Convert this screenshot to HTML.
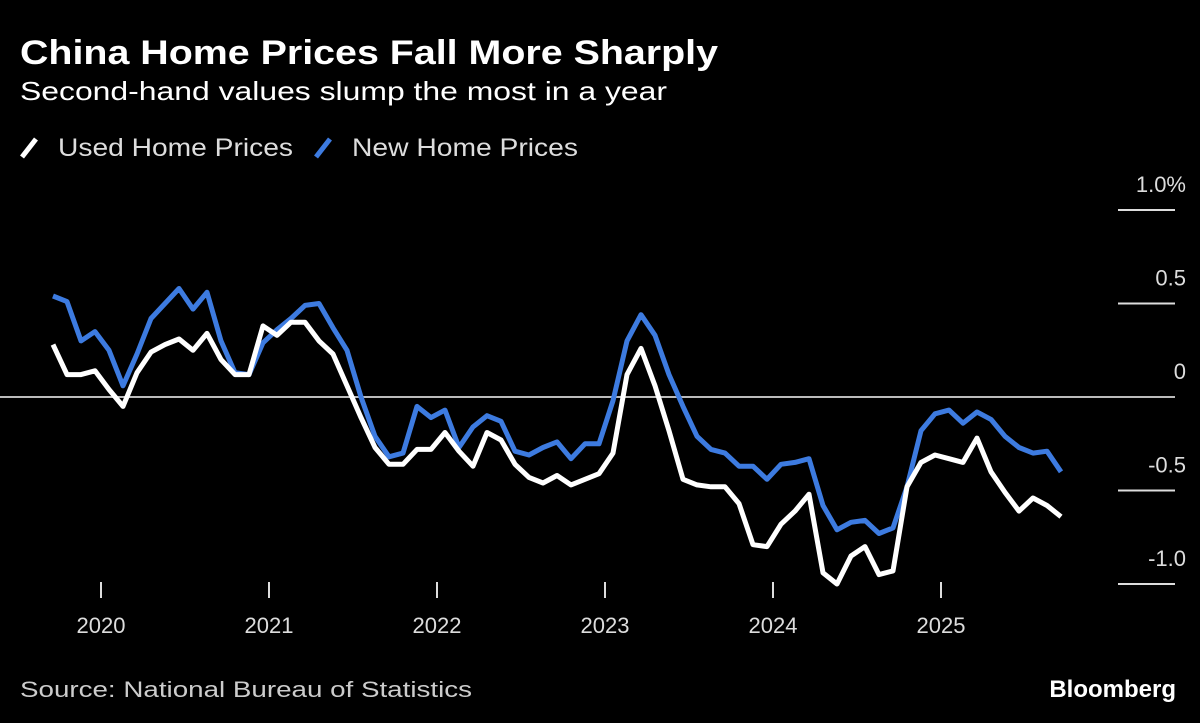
<!DOCTYPE html>
<html><head><meta charset="utf-8"><style>
html,body{margin:0;padding:0;background:#000;}
svg{display:block;font-family:"Liberation Sans","DejaVu Sans",sans-serif;}
</style></head><body>
<svg id="chart" width="1200" height="723" viewBox="0 0 1200 723">
<rect width="1200" height="723" fill="#000"/>
<text x="20" y="64" fill="#fff" font-size="34" font-weight="bold" textLength="698" lengthAdjust="spacingAndGlyphs">China Home Prices Fall More Sharply</text>
<text x="20" y="100" fill="#fff" font-size="26" textLength="647" lengthAdjust="spacingAndGlyphs">Second-hand values slump the most in a year</text>
<g>
<g>
<line x1="22" y1="157" x2="36" y2="139" stroke="#fff" stroke-width="5"/>
<text x="58" y="156" fill="#ddd" font-size="25" textLength="235" lengthAdjust="spacingAndGlyphs">Used Home Prices</text>
</g>
<g>
<line x1="316" y1="157" x2="330" y2="139" stroke="#3d7be0" stroke-width="5"/>
<text x="352" y="156" fill="#ddd" font-size="25" textLength="226" lengthAdjust="spacingAndGlyphs">New Home Prices</text>
</g>
</g>
<g id="axes"></g>
<g id="series"></g>
<text x="20" y="697" fill="#ccc" font-size="22" textLength="452" lengthAdjust="spacingAndGlyphs">Source: National Bureau of Statistics</text>
<text x="1176" y="697" fill="#fff" font-size="24" font-weight="bold" text-anchor="end">Bloomberg</text>
</svg>
<script>
const yTicks = [1.0, 0.5, 0, -0.5, -1.0];
const yTickLabels = ["1.0%", "0.5", "0", "-0.5", "-1.0"];
const xTickYears = [2020, 2021, 2022, 2023, 2024, 2025];
const startYear = 2019, startMonth = 9; // Oct 2019 (0-based month)
const usedPrices = [0.28,0.12,0.12,0.14,0.04,-0.05,0.13,0.24,0.28,0.31,0.25,0.34,0.20,0.12,0.12,0.38,0.33,0.40,0.40,0.30,0.23,0.06,-0.11,-0.27,-0.36,-0.36,-0.28,-0.28,-0.19,-0.29,-0.37,-0.19,-0.23,-0.36,-0.43,-0.46,-0.42,-0.47,-0.44,-0.41,-0.30,0.12,0.26,0.06,-0.18,-0.44,-0.47,-0.48,-0.48,-0.57,-0.79,-0.80,-0.68,-0.61,-0.52,-0.94,-1.00,-0.85,-0.80,-0.95,-0.93,-0.48,-0.35,-0.31,-0.33,-0.35,-0.22,-0.40,-0.51,-0.61,-0.54,-0.58,-0.64];
const newPrices = [0.54,0.51,0.30,0.35,0.25,0.06,0.23,0.42,0.50,0.58,0.47,0.56,0.30,0.13,0.12,0.29,0.36,0.42,0.49,0.50,0.37,0.25,0.00,-0.21,-0.32,-0.30,-0.05,-0.11,-0.07,-0.27,-0.16,-0.10,-0.13,-0.29,-0.31,-0.27,-0.24,-0.33,-0.25,-0.25,-0.02,0.30,0.44,0.33,0.12,-0.05,-0.21,-0.28,-0.30,-0.37,-0.37,-0.44,-0.36,-0.35,-0.33,-0.58,-0.71,-0.67,-0.66,-0.73,-0.70,-0.48,-0.18,-0.09,-0.07,-0.14,-0.08,-0.12,-0.21,-0.27,-0.30,-0.29,-0.40];

const NS = "http://www.w3.org/2000/svg";
const X0 = 53, MONTH = 14.0;
function xScale(monthIndex){ return X0 + monthIndex * MONTH; }
function yScale(v){ return 397 - v * 187; }
function mk(tag, attrs, parent){ const e = document.createElementNS(NS, tag); for (const k in attrs) e.setAttribute(k, attrs[k]); parent.appendChild(e); return e; }

const axes = document.getElementById('axes');
yTicks.forEach((t, i) => {
  const y = yScale(t);
  const ln = mk('line', {x1: t === 0 ? 0 : 1118, x2: 1175, y1: y, y2: y, stroke: t === 0 ? '#bbb' : '#ddd', 'stroke-width': 2}, axes);
  
  
  const tx = mk('text', {x: 1186, y: y - 18, fill: '#ddd', 'font-size': 22, 'text-anchor': 'end'}, axes);
  tx.textContent = yTickLabels[i];
  
  
});
xTickYears.forEach(yr => {
  const x = xScale((yr - startYear) * 12 - startMonth) + 6;
  const tk = mk('line', {x1: x, x2: x, y1: 582, y2: 598, stroke: '#ddd', 'stroke-width': 2}, axes);
  
  
  const tx = mk('text', {x: x, y: 633, fill: '#ddd', 'font-size': 22, 'text-anchor': 'middle'}, axes);
  tx.textContent = String(yr);
  
  
});

const series = document.getElementById('series');
function drawLine(vals, color, name){
  const d = vals.map((v, i) => (i ? 'L' : 'M') + xScale(i).toFixed(1) + ',' + yScale(v).toFixed(1)).join(' ');
  const p = mk('path', {d: d, fill: 'none', stroke: color, 'stroke-width': 5, 'stroke-linejoin': 'round'}, series);
  
  
}
drawLine(newPrices, '#3d7be0', 'new-home-prices-line');
drawLine(usedPrices, '#ffffff', 'used-home-prices-line');
</script>
</body></html>
